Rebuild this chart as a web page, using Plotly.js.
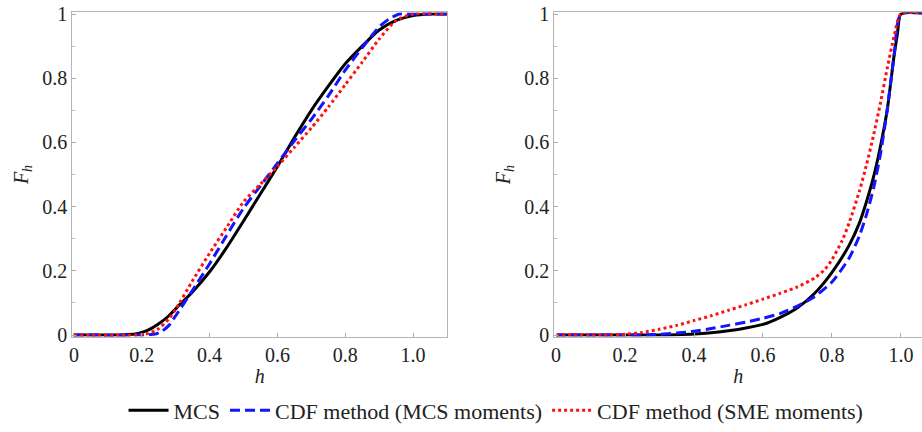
<!DOCTYPE html>
<html>
<head>
<meta charset="utf-8">
<script src="https://cdn.plot.ly/plotly-3.0.1.min.js"></script>
<style>html,body{margin:0;padding:0;background:#fff;}#chart{width:922px;height:432px;}</style>
</head>
<body>
<div id="chart"></div>
<script>
// Tick labels
const xTickVals = [0, 0.2, 0.4, 0.6, 0.8, 1.0];
const xTickText = ["0", "0.2", "0.4", "0.6", "0.8", "1.0"];

// Series names
const seriesNames = ["MCS", "CDF method (MCS moments)", "CDF method (SME moments)"];

// Left panel
const leftMcsX = [0, 0.1, 0.15, 0.18, 0.2, 0.22, 0.25, 0.28, 0.3, 0.35, 0.4, 0.45, 0.5, 0.55, 0.6, 0.65, 0.7, 0.75, 0.8, 0.85, 0.9, 0.95, 1.0, 1.05, 1.1];
const leftMcsY = [0, 0, 0.001, 0.003, 0.008, 0.016, 0.035, 0.06, 0.082, 0.135, 0.197, 0.272, 0.355, 0.44, 0.525, 0.615, 0.70, 0.775, 0.845, 0.90, 0.95, 0.98, 0.995, 1.0, 1.0];

const leftCdfMcsX = [0, 0.2, 0.24, 0.26, 0.28, 0.3, 0.35, 0.4, 0.45, 0.5, 0.55, 0.6, 0.65, 0.7, 0.75, 0.8, 0.85, 0.9, 0.93, 0.96, 1.0, 1.1];
const leftCdfMcsY = [0, 0, 0.003, 0.012, 0.03, 0.06, 0.14, 0.222, 0.31, 0.395, 0.465, 0.535, 0.605, 0.672, 0.745, 0.825, 0.895, 0.96, 0.985, 1.0, 1.0, 1.0];

const leftCdfSmeX = [0, 0.18, 0.22, 0.25, 0.28, 0.3, 0.35, 0.4, 0.45, 0.5, 0.55, 0.6, 0.65, 0.7, 0.75, 0.8, 0.85, 0.9, 0.95, 1.0, 1.1];
const leftCdfSmeY = [0, 0, 0.005, 0.02, 0.05, 0.08, 0.17, 0.255, 0.335, 0.415, 0.47, 0.525, 0.585, 0.645, 0.71, 0.78, 0.85, 0.922, 0.98, 1.0, 1.0];

// Right panel
const rightMcsX = [0, 0.3, 0.35, 0.4, 0.45, 0.5, 0.55, 0.6, 0.65, 0.7, 0.75, 0.8, 0.85, 0.88, 0.9, 0.92, 0.94, 0.96, 0.98, 0.99, 1.0, 1.1];
const rightMcsY = [0, 0, 0.001, 0.003, 0.007, 0.013, 0.022, 0.033, 0.055, 0.085, 0.13, 0.195, 0.28, 0.35, 0.415, 0.49, 0.585, 0.70, 0.87, 0.94, 1.0, 1.0];

const rightCdfMcsX = [0, 0.25, 0.3, 0.35, 0.4, 0.45, 0.5, 0.55, 0.6, 0.65, 0.7, 0.75, 0.8, 0.85, 0.88, 0.9, 0.92, 0.94, 0.96, 0.98, 1.0, 1.1];
const rightCdfMcsY = [0, 0, 0.002, 0.006, 0.012, 0.02, 0.03, 0.04, 0.052, 0.067, 0.09, 0.12, 0.165, 0.24, 0.31, 0.375, 0.455, 0.56, 0.70, 0.87, 1.0, 1.0];

const rightCdfSmeX = [0, 0.15, 0.2, 0.25, 0.3, 0.35, 0.4, 0.45, 0.5, 0.55, 0.6, 0.65, 0.7, 0.75, 0.78, 0.8, 0.83, 0.85, 0.88, 0.9, 0.92, 0.94, 0.96, 0.98, 1.0, 1.1];
const rightCdfSmeY = [0, 0, 0.002, 0.008, 0.018, 0.03, 0.045, 0.06, 0.077, 0.094, 0.112, 0.13, 0.15, 0.178, 0.205, 0.235, 0.295, 0.35, 0.45, 0.53, 0.62, 0.72, 0.83, 0.93, 1.0, 1.0];

const serif = "Liberation Serif, serif";
const blackLine = {color: '#000000', width: 3, shape: 'spline', smoothing: 0.6};
const blueLine = {color: '#1414ff', width: 3, dash: '10px,5px', shape: 'spline', smoothing: 0.6};
const redLine = {color: '#ff1010', width: 3, dash: 'dot', shape: 'spline', smoothing: 0.6};

const traces = [
  {x: leftMcsX, y: leftMcsY, xaxis: 'x', yaxis: 'y', mode: 'lines', name: seriesNames[0], line: blackLine, legendgroup: 'a'},
  {x: leftCdfMcsX, y: leftCdfMcsY, xaxis: 'x', yaxis: 'y', mode: 'lines', name: seriesNames[1], line: blueLine, legendgroup: 'b'},
  {x: leftCdfSmeX, y: leftCdfSmeY, xaxis: 'x', yaxis: 'y', mode: 'lines', name: seriesNames[2], line: redLine, legendgroup: 'c'},
  {x: rightMcsX, y: rightMcsY, xaxis: 'x2', yaxis: 'y2', mode: 'lines', name: seriesNames[0], line: blackLine, legendgroup: 'a', showlegend: false},
  {x: rightCdfMcsX, y: rightCdfMcsY, xaxis: 'x2', yaxis: 'y2', mode: 'lines', name: seriesNames[1], line: blueLine, legendgroup: 'b', showlegend: false},
  {x: rightCdfSmeX, y: rightCdfSmeY, xaxis: 'x2', yaxis: 'y2', mode: 'lines', name: seriesNames[2], line: redLine, legendgroup: 'c', showlegend: false}
];

const tickFont = {family: serif, size: 20, color: '#222'};
const xCommon = {
  tickvals: xTickVals, ticktext: xTickText, tickfont: tickFont,
  showline: true, linecolor: '#b5b5b5', linewidth: 1, mirror: true,
  ticks: 'inside', ticklen: 4, tickcolor: '#aaa',
  showgrid: false, zeroline: false, fixedrange: true
};
const yCommon = {
  range: [-0.005, 1.005], dtick: 0.2, tick0: 0, tickfont: tickFont,
  showline: true, linecolor: '#b5b5b5', linewidth: 1,
  ticks: 'inside', ticklen: 4, tickcolor: '#aaa',
  minor: {dtick: 0.1, ticks: 'inside', ticklen: 3, tickcolor: '#bbb'},
  showgrid: false, zeroline: false, fixedrange: true,
  title: {text: '<i>F</i><sub><i>h</i></sub>', font: {family: serif, size: 20, color: '#222'}, standoff: 8}
};

const layout = {
  width: 922, height: 432,
  margin: {l: 0, r: 0, t: 0, b: 0},
  paper_bgcolor: '#ffffff', plot_bgcolor: '#ffffff',
  showlegend: true,
  xaxis: Object.assign({}, xCommon, {domain: [0.0784, 0.4848], range: [-0.005, 1.1], anchor: 'y',
    title: {text: '<i>h</i>', font: {family: serif, size: 20, color: '#222'}, standoff: 4}}),
  yaxis: Object.assign({}, yCommon, {domain: [0.2208, 0.9713], anchor: 'x', mirror: true}),
  xaxis2: Object.assign({}, xCommon, {domain: [0.6012, 1.0], range: [-0.005, 1.061], anchor: 'y2',
    title: {text: '<i>h</i>', font: {family: serif, size: 20, color: '#222'}, standoff: 4}}),
  yaxis2: Object.assign({}, yCommon, {domain: [0.2208, 0.9713], anchor: 'x2', mirror: false}),
  legend: {
    orientation: 'h', x: 0.538, xanchor: 'center', y: 0.05, yanchor: 'middle',
    font: {family: serif, size: 22, color: '#222'},
    itemwidth: 40, tracegroupgap: 0, bgcolor: 'rgba(0,0,0,0)'
  }
};

Plotly.newPlot('chart', traces, layout, {displayModeBar: false, staticPlot: true});
</script>
</body>
</html>
